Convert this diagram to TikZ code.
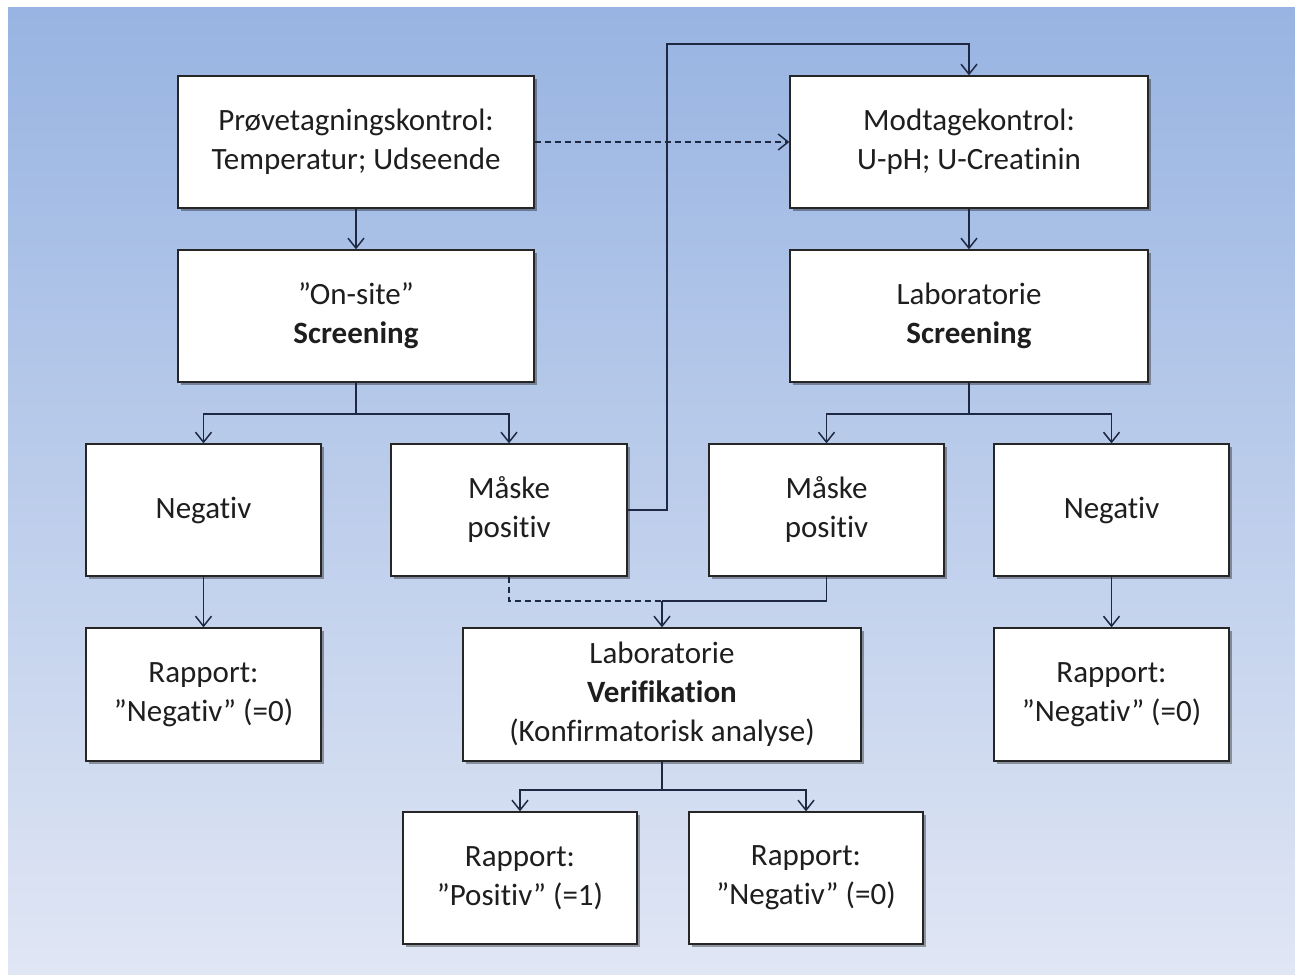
\documentclass[tikz,border=0pt]{standalone}
\usepackage{fontspec}
\setmainfont{Carlito}[RawFeature={-liga;-clig;-dlig}]
\usetikzlibrary{arrows.meta,shadows}
\definecolor{bgtop}{RGB}{152,180,226}
\definecolor{bgbot}{RGB}{224,230,244}
\definecolor{linec}{RGB}{30,40,66}
\definecolor{txt}{RGB}{30,30,30}
\begin{document}
\begin{tikzpicture}[x=1pt,y=-1pt,
  box/.style={draw=black!85, line width=1.3pt, fill=white, align=center,
    inner sep=0pt, minimum height=132pt, text=txt,
    font=\fontsize{31}{39}\selectfont,
    drop shadow={shadow xshift=3pt, shadow yshift=-3pt, opacity=0.35, fill=black}},
  conn/.style={draw=linec, line width=1.5pt},
  arr/.style={conn, -{Straight Barb[length=10pt,width=16pt,line width=1.5pt]}},
  dsh/.style={dash pattern=on 6pt off 4pt}]
\useasboundingbox (0,0) rectangle (1295,974);
\shade[top color=bgtop, bottom color=bgbot] (8,8) rectangle (1295,974);

\node[box, minimum width=356pt] (b1) at (356,142) {Prøvetagningskontrol:\\Temperatur; Udseende};
\node[box, minimum width=358pt] (b2) at (969,142) {Modtagekontrol:\\U-pH; U-Creatinin};
\node[box, minimum width=356pt] (b3) at (356,316) {”On-site”\\\textbf{Screening}};
\node[box, minimum width=358pt] (b4) at (969,316) {Laboratorie\\\textbf{Screening}};
\node[box, minimum width=235pt] (b5) at (203.5,510) {Negativ};
\node[box, minimum width=236pt] (b6) at (509,510) {Måske\\positiv};
\node[box, minimum width=235pt] (b7) at (826.5,510) {Måske\\positiv};
\node[box, minimum width=235pt] (b8) at (1111.5,510) {Negativ};
\node[box, minimum width=235pt, minimum height=133pt] (b9) at (203.5,694.5) {Rapport:\\”Negativ” (=0)};
\node[box, minimum width=398pt, minimum height=133pt] (b10) at (662,694.5) {Laboratorie\\\textbf{Verifikation}\\(Konfirmatorisk analyse)};
\node[box, minimum width=235pt, minimum height=133pt] (b11) at (1111.5,694.5) {Rapport:\\”Negativ” (=0)};
\node[box, minimum width=234pt] (b12) at (520,878) {Rapport:\\”Positiv” (=1)};
\node[box, minimum width=234pt] (b13) at (806,878) {Rapport:\\”Negativ” (=0)};

\coordinate (j1) at (356,414);
\coordinate (j2) at (969,414);
\coordinate (up) at (667,44);
\coordinate (j3) at (662,601);
\coordinate (j4) at (662,790);

\draw[arr] (b1) -- (b3);
\draw[arr,dsh] (b1) -- (b2);
\draw[arr] (b2) -- (b4);
\draw[conn] (b3.south) -- (j1);
\draw[arr] (j1) -| (b5.north);
\draw[arr] (j1) -| (b6.north);
\draw[conn] (b4.south) -- (j2);
\draw[arr] (j2) -| (b7.north);
\draw[arr] (j2) -| (b8.north);
\draw[arr] (b6.east) -| (up) -| (b2.north);
\draw[arr] (b5) -- (b9);
\draw[arr] (b8) -- (b11);
\draw[conn,dsh] (b6.south) |- (j3);
\draw[conn] (b7.south) |- (j3);
\draw[arr] (j3) -- (b10.north);
\draw[conn] (b10.south) -- (j4);
\draw[arr] (j4) -| (b12.north);
\draw[arr] (j4) -| (b13.north);
\end{tikzpicture}
\end{document}
